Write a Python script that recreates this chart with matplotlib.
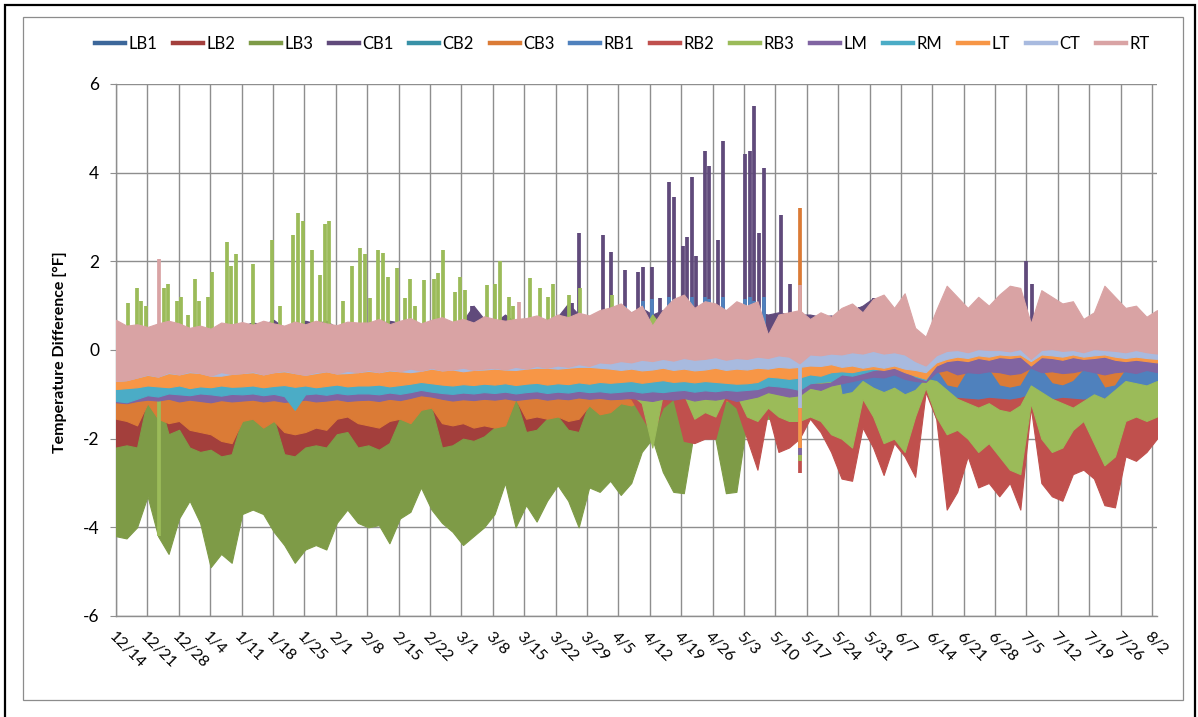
import numpy as np
import matplotlib
matplotlib.use("Agg")
import matplotlib.pyplot as plt
from matplotlib.patches import Rectangle
from matplotlib.lines import Line2D

# ---------------- data ----------------
# x axis: days since 12/14. Bands: 3 samples a week, each sample holds the daily
# low (lo) and daily high (hi) envelope of the series. Single-day spikes are kept
# separately as (day, value) pairs.
END_DAY = 232.1
week_labels = ["12/14", "12/21", "12/28", "1/4", "1/11", "1/18", "1/25", "2/1", "2/8",
               "2/15", "2/22", "3/1", "3/8", "3/15", "3/22", "3/29", "4/5", "4/12",
               "4/19", "4/26", "5/3", "5/10", "5/17", "5/24", "5/31", "6/7", "6/14",
               "6/21", "6/28", "7/5", "7/12", "7/19", "7/26", "8/2"]
y_ticks = [-6, -4, -2, 0, 2, 4, 6]
series_names = ["LB1", "LB2", "LB3", "CB1", "CB2", "CB3", "RB1", "RB2", "RB3",
                "LM", "RM", "LT", "CT", "RT"]

LB1_hi = [-1.15,-1.18,-1.12,-1.15,-1.20,-1.14,-1.17,-1.13,-1.16,-1.19,-1.14,-1.17,
          -1.15,-1.12,-1.16,-1.14,-1.18,-1.15,-1.13,-1.17,-1.14,-1.16,-1.12,-1.15,
          -1.14,-1.17,-1.13,-1.15,-1.12,-1.10,-1.12,-1.16,-1.14,-1.13,-1.15,-1.12,
          -1.14,-1.12,-1.10,-1.15,-1.13,-1.12,-1.14,-1.12,-1.15,-1.12,-1.10,-1.12,
          -1.12,-1.10,-1.13,-1.11,-1.12,-1.10,-1.13,-1.11,-1.12,-1.10,-1.12,-1.11,
          -1.10,-1.12,-1.08,-1.10,-1.12,-1.10,-1.05,-1.08,-1.06,-1.05,-1.08,-1.02,
          -1.05,-1.08,-1.04,-1.06,-1.00,-0.75,-1.05,-1.10,-1.12,-1.08,-1.10,-1.12,
          -1.10,-1.12,-1.15,-1.00,-1.10,-1.12,-1.10,-1.08,-1.05,-1.08,-1.10,-1.06,
          -1.02,-1.00,-1.04,-1.02]
LB1_lo = [-1.45,-1.48,-1.42,-1.40,-1.45,-1.44,-1.47,-1.43,-1.46,-1.49,-1.44,-1.47,
          -1.45,-1.42,-1.46,-1.44,-1.48,-1.45,-1.43,-1.47,-1.44,-1.42,-1.40,-1.45,
          -1.44,-1.47,-1.43,-1.45,-1.42,-1.30,-1.28,-1.46,-1.44,-1.43,-1.45,-1.42,
          -1.44,-1.42,-1.20,-1.45,-1.43,-1.42,-1.44,-1.42,-1.45,-1.20,-1.35,-1.32,
          -1.30,-1.28,-1.30,-1.32,-1.30,-1.28,-1.30,-1.32,-1.30,-1.28,-1.30,-1.32,
          -1.30,-1.32,-1.28,-1.30,-1.32,-1.30,-1.28,-1.30,-1.32,-1.30,-1.28,-1.10,
          -1.30,-1.32,-1.28,-1.30,-1.25,-0.85,-1.30,-1.35,-1.32,-1.30,-1.35,-1.32,
          -1.35,-1.32,-1.35,-1.20,-1.32,-1.35,-1.30,-1.28,-1.30,-1.32,-1.35,-1.30,
          -1.25,-1.22,-1.25,-1.20]

LB2_hi = [-1.20,-1.22,-1.18,-1.15,-1.20,-1.22,-1.18,-1.25,-1.22,-1.20,-1.25,-1.22,
          -1.20,-1.18,-1.22,-1.20,-1.25,-1.22,-1.20,-1.22,-1.18,-1.20,-1.22,-1.20,
          -1.22,-1.25,-1.20,-1.18,-1.20,-1.15,-1.12,-1.22,-1.20,-1.18,-1.20,-1.22,
          -1.20,-1.18,-1.05,-1.20,-1.18,-1.15,-1.18,-1.20,-1.18,-1.10,-1.15,-1.12,
          -1.12,-1.10,-1.12,-1.15,-1.12,-1.10,-1.12,-1.15,-1.12,-1.10,-1.12,-1.15,
          -1.12,-1.15,-1.10,-1.12,-1.15,-1.12,-1.10,-1.12,-1.15,-1.12,-1.10,-1.12,
          -1.15,-1.18,-1.15,-1.18,-1.10,-0.75,-1.15,-1.20,-1.22,-1.18,-1.20,-1.22,
          -1.20,-1.22,-1.25,-1.05,-1.20,-1.22,-1.20,-1.18,-1.15,-1.18,-1.20,-1.15,
          -1.12,-1.10,-1.12,-1.10]
LB2_lo = [-2.30,-2.35,-2.40,-1.80,-2.00,-2.20,-2.10,-2.40,-2.45,-2.40,-2.50,-2.95,
          -2.20,-2.10,-2.30,-2.20,-2.50,-2.90,-2.45,-2.40,-2.45,-2.20,-2.10,-2.40,
          -2.45,-2.50,-2.40,-2.00,-2.05,-1.80,-1.75,-2.40,-2.30,-2.25,-2.30,-2.20,
          -2.10,-2.00,-1.70,-2.10,-2.05,-1.90,-1.85,-2.10,-2.15,-1.70,-1.80,-1.75,
          -1.50,-1.45,-1.50,-1.48,-1.50,-1.45,-1.50,-1.48,-1.50,-1.45,-1.50,-1.48,
          -1.45,-1.48,-1.40,-1.45,-1.48,-1.45,-1.40,-1.42,-1.45,-1.40,-1.42,-1.35,
          -1.35,-1.40,-1.38,-1.40,-1.35,-0.85,-1.40,-1.42,-1.40,-1.38,-1.40,-1.42,
          -1.40,-1.42,-1.45,-1.20,-1.40,-1.42,-1.40,-1.38,-1.35,-1.38,-1.40,-1.35,
          -1.32,-1.30,-1.32,-1.30]

LB3_hi = [-2.20,-2.15,-2.20,-1.10,-1.05,-1.90,-1.80,-2.20,-2.30,-2.25,-2.40,-2.35,
          -1.55,-1.50,-1.70,-1.55,-2.35,-2.40,-2.20,-2.15,-2.20,-1.90,-1.85,-2.20,
          -2.15,-2.25,-2.10,-1.55,-1.60,-1.35,-1.30,-2.20,-2.15,-2.00,-2.05,-1.95,
          -1.75,-1.70,-1.10,-1.85,-1.80,-1.55,-1.50,-1.80,-1.85,-1.20,-1.40,-1.35,
          -1.10,-1.12,-1.10,-1.12,-1.10,-1.08,-1.10,-1.12,-1.10,-1.12,-1.08,-1.10,
          -1.20,-1.22,-1.18,-1.20,-1.22,-1.20,-1.18,-1.20,-1.22,-1.20,-1.18,-1.20,
          -1.15,-1.18,-1.15,-1.18,-1.10,-0.75,-1.15,-1.20,-1.22,-1.18,-1.20,-1.22,
          -1.20,-1.22,-1.25,-1.05,-1.20,-1.22,-1.20,-1.18,-1.15,-1.18,-1.20,-1.15,
          -1.12,-1.10,-1.12,-1.10]
LB3_lo = [-4.20,-4.25,-4.00,-3.30,-4.20,-4.60,-3.80,-3.40,-3.90,-4.90,-4.60,-4.80,
          -3.70,-3.60,-3.70,-4.10,-4.40,-4.80,-4.50,-4.40,-4.50,-3.90,-3.60,-3.90,
          -4.00,-3.95,-4.36,-3.80,-3.65,-3.10,-3.60,-3.90,-4.10,-4.40,-4.20,-4.00,
          -3.70,-3.00,-4.00,-3.50,-3.87,-3.40,-3.05,-3.40,-4.00,-3.10,-3.20,-2.95,
          -3.27,-3.00,-2.30,-2.00,-2.75,-3.20,-3.23,-1.80,-1.90,-2.00,-3.23,-3.20,
          -1.60,-1.62,-1.55,-1.60,-1.62,-1.60,-1.55,-1.58,-1.60,-1.55,-1.58,-1.50,
          -1.50,-1.55,-1.52,-1.55,-1.50,-0.85,-1.55,-1.60,-1.58,-1.55,-1.60,-1.62,
          -1.60,-1.62,-1.65,-1.20,-1.60,-1.62,-1.60,-1.55,-1.50,-1.55,-1.58,-1.50,
          -1.45,-1.42,-1.45,-1.40]

CB1_hi = [0.40, 0.40, 0.42, 0.38, 0.45, 0.40, 0.55, 0.45, 0.50, 0.40, 0.42, 0.48,
          0.55, 0.62, 0.58, 0.68, 0.50, 0.55, 0.66, 0.60, 0.66, 0.50, 0.58, 0.56,
          0.55, 0.60, 0.66, 0.62, 0.65, 0.55, 0.60, 0.65, 0.58, 0.66, 1.00, 0.70,
          0.62, 0.80, 0.62, 0.70, 0.72, 0.62, 0.75, 1.05, 0.80, 0.72, 0.85, 0.90,
          0.90, 0.85, 0.95, 0.80, 0.90, 0.85, 0.95, 0.90, 0.85, 0.80, 0.90, 0.85,
          0.90, 0.85, 0.80, 0.85, 0.80, 0.80, 0.80, 0.75, 0.78, 0.70, 0.90, 1.00,
          1.17, 0.70, 0.79, 0.65, 0.40, 0.25, 0.60, 0.70, 0.65, 0.60, 0.70, 0.65,
          0.70, 0.75, 0.70, 0.55, 0.70, 0.65, 0.70, 0.75, 0.50, 0.60, 0.70, 0.65,
          0.60, 0.65, 0.55, 0.60]
CB1_lo = [-0.30,-0.32,-0.28,-0.30,-0.31,-0.29,-0.30,-0.32,-0.28,-0.30,-0.31,-0.29,
          -0.30,-0.32,-0.28,-0.30,-0.31,-0.29,-0.30,-0.32,-0.28,-0.30,-0.31,-0.29,
          -0.30,-0.32,-0.28,-0.30,-0.31,-0.29,-0.30,-0.32,-0.28,-0.30,-0.31,-0.29,
          -0.30,-0.32,-0.28,-0.30,-0.31,-0.29,-0.30,-0.32,-0.28,-0.30,-0.31,-0.29,
          -0.10,-0.12,-0.08,-0.10,-0.11,-0.09,-0.10,-0.12,-0.08,-0.10,-0.11,-0.09,
          -0.10,-0.12,-0.08,-0.10,-0.11,-0.09,-0.10,-0.12,-0.08,-0.05,-0.06,-0.04,
          -0.05,-0.06,-0.04,-0.05,-0.06,-0.04,-0.05,-0.06,-0.04,-0.05,-0.06,-0.04,
          -0.05,-0.06,-0.04,-0.05,-0.06,-0.04,-0.05,-0.06,-0.04,-0.05,-0.06,-0.04,
          -0.05,-0.06,-0.04,-0.05]

CB2_hi = [-0.80,-0.82,-0.78,-0.80,-0.81,-0.79,-0.80,-0.82,-0.78,-0.80,-0.81,-0.79,
          -0.80,-0.82,-0.78,-0.80,-0.81,-0.79,-0.80,-0.82,-0.78,-0.80,-0.81,-0.79,
          -0.80,-0.82,-0.78,-0.80,-0.81,-0.79,-0.80,-0.82,-0.78,-0.80,-0.81,-0.79,
          -0.80,-0.82,-0.78,-0.80,-0.81,-0.79,-0.80,-0.82,-0.78,-0.80,-0.81,-0.79,
          -0.75,-0.76,-0.74,-0.75,-0.76,-0.74,-0.75,-0.76,-0.74,-0.75,-0.76,-0.74,
          -0.75,-0.76,-0.74,-0.75,-0.76,-0.74,-0.75,-0.76,-0.74,-0.15,-0.16,-0.14,
          -0.15,-0.16,-0.14,-0.15,-0.16,-0.14,-0.15,-0.16,-0.14,-0.15,-0.16,-0.14,
          -0.15,-0.16,-0.14,-0.15,-0.16,-0.14,-0.15,-0.16,-0.14,-0.15,-0.16,-0.14,
          -0.15,-0.16,-0.14,-0.15]
CB2_lo = [-1.00,-1.02,-0.98,-1.00,-1.01,-0.99,-1.00,-1.02,-0.98,-1.00,-1.01,-0.99,
          -1.00,-1.02,-0.98,-1.00,-1.01,-0.99,-1.00,-1.02,-0.98,-1.00,-1.01,-0.99,
          -1.00,-1.02,-0.98,-1.00,-1.01,-0.99,-1.00,-1.02,-0.98,-1.00,-1.01,-0.99,
          -1.00,-1.02,-0.98,-1.00,-1.01,-0.99,-1.00,-1.02,-0.98,-1.00,-1.01,-0.99,
          -0.95,-0.96,-0.94,-0.95,-0.96,-0.94,-0.95,-0.96,-0.94,-0.95,-0.96,-0.94,
          -0.95,-0.96,-0.94,-0.95,-0.96,-0.94,-0.95,-0.96,-0.94,-0.40,-0.41,-0.39,
          -0.40,-0.41,-0.39,-0.40,-0.41,-0.39,-0.40,-0.41,-0.39,-0.40,-0.41,-0.39,
          -0.40,-0.41,-0.39,-0.40,-0.41,-0.39,-0.40,-0.41,-0.39,-0.40,-0.41,-0.39,
          -0.40,-0.41,-0.39,-0.40]

CB3_hi = [-0.95,-0.96,-0.94,-0.95,-0.96,-0.94,-0.95,-0.96,-0.94,-0.95,-0.96,-0.94,
          -0.95,-0.96,-0.94,-0.95,-0.96,-0.94,-0.95,-0.96,-0.94,-0.95,-0.96,-0.94,
          -0.95,-0.96,-0.94,-0.95,-0.96,-0.94,-0.95,-0.96,-0.94,-0.95,-0.96,-0.94,
          -0.95,-0.96,-0.94,-0.95,-0.96,-0.94,-0.95,-0.96,-0.94,-0.95,-0.96,-0.94,
          -0.90,-0.91,-0.89,-0.90,-0.91,-0.89,-0.90,-0.91,-0.89,-0.90,-0.91,-0.89,
          -0.90,-0.91,-0.85,-0.90,-0.91,-0.90,-0.85,-0.86,-0.84,-0.30,-0.32,-0.28,
          -0.30,-0.32,-0.28,-0.30,-0.32,-0.28,-0.30,-0.32,-0.28,-0.30,-0.32,-0.28,
          -0.30,-0.32,-0.28,-0.30,-0.32,-0.28,-0.30,-0.32,-0.28,-0.30,-0.32,-0.28,
          -0.30,-0.32,-0.28,-0.30]
CB3_lo = [-1.55,-1.60,-1.70,-1.20,-1.55,-1.65,-1.60,-1.80,-1.85,-1.90,-2.05,-2.10,
          -1.60,-1.55,-1.75,-1.60,-1.85,-1.90,-1.85,-1.75,-1.80,-1.55,-1.50,-1.65,
          -1.70,-1.75,-1.60,-1.55,-1.65,-1.35,-1.30,-1.65,-1.70,-1.65,-1.75,-1.70,
          -1.75,-1.70,-1.10,-1.55,-1.50,-1.55,-1.50,-1.60,-1.55,-1.25,-1.45,-1.40,
          -1.20,-1.25,-1.15,-1.10,-1.15,-1.10,-1.15,-1.10,-1.12,-1.10,-1.15,-1.10,
          -1.10,-1.05,-0.90,-1.00,-1.05,-1.00,-0.95,-0.95,-0.90,-0.95,-0.95,-0.95,
          -0.95,-0.95,-0.95,-0.95,-0.90,-0.85,-0.95,-0.95,-0.95,-0.95,-0.95,-0.95,
          -0.95,-0.95,-0.95,-0.90,-0.95,-0.95,-0.95,-0.95,-0.95,-0.95,-0.95,-0.95,
          -0.95,-0.95,-0.95,-0.95]

RB1_hi = [0.20, 0.22, 0.18, 0.20, 0.21, 0.19, 0.20, 0.22, 0.18, 0.20, 0.21, 0.19,
          0.20, 0.22, 0.18, 0.20, 0.21, 0.19, 0.20, 0.22, 0.18, 0.20, 0.21, 0.19,
          0.20, 0.22, 0.18, 0.20, 0.21, 0.19, 0.20, 0.22, 0.18, 0.20, 0.21, 0.19,
          0.20, 0.22, 0.18, 0.20, 0.21, 0.19, 0.20, 0.22, 0.18, 0.20, 0.50, 0.50,
          0.50, 0.50, 0.50, 0.45, 0.50, 0.50, 0.45, 0.50, 0.50, 0.45, 0.50, 0.50,
          0.45, 0.50, 0.35, 0.45, 0.50, 0.45, 0.40, 0.40, 0.30,-0.70,-0.65,-0.60,
          -0.55,-0.58,-0.50,-0.60,-0.65,-0.70,-0.45,-0.80,-0.85,-0.45,-0.50,-0.45,
          -0.80,-0.85,-0.80,-0.40,-0.45,-0.75,-0.80,-0.70,-0.45,-0.45,-0.85,-0.80,
          -0.45,-0.50,-0.45,-0.48]
RB1_lo = [-0.80,-0.82,-0.78,-0.80,-0.81,-0.79,-0.80,-0.82,-0.78,-0.80,-0.81,-0.79,
          -0.80,-0.82,-0.78,-0.80,-0.81,-0.79,-0.80,-0.82,-0.78,-0.80,-0.81,-0.79,
          -0.80,-0.82,-0.78,-0.80,-0.81,-0.79,-0.80,-0.82,-0.78,-0.80,-0.81,-0.79,
          -0.80,-0.82,-0.78,-0.80,-0.81,-0.79,-0.80,-0.82,-0.78,-0.80,-0.81,-0.79,
          -0.90,-0.91,-0.89,-0.90,-0.91,-0.89,-0.90,-0.91,-0.89,-0.90,-0.91,-0.89,
          -0.90,-0.91,-0.89,-0.90,-0.91,-0.89,-0.90,-0.91,-0.89,-1.20,-1.10,-1.30,
          -1.40,-1.40,-1.30,-1.40,-1.10,-0.80,-1.00,-1.30,-1.40,-1.50,-1.55,-1.60,
          -1.55,-1.60,-1.50,-1.00,-1.30,-1.50,-1.55,-1.50,-1.45,-1.40,-1.50,-1.50,
          -1.30,-1.30,-1.25,-1.30]

RB2_hi = [-0.85,-0.86,-0.84,-0.85,-0.86,-0.84,-0.85,-0.86,-0.84,-0.85,-0.86,-0.84,
          -0.85,-0.86,-0.84,-0.85,-0.86,-0.84,-0.85,-0.86,-0.84,-0.85,-0.86,-0.84,
          -0.85,-0.86,-0.84,-0.85,-0.86,-0.84,-0.85,-0.86,-0.84,-0.85,-0.86,-0.84,
          -0.85,-0.86,-0.84,-0.85,-0.86,-0.84,-0.85,-0.86,-0.84,-0.85,-0.95,-0.96,
          -0.95,-0.96,-0.94,-0.95,-0.96,-0.94,-0.95,-0.96,-0.94,-0.95,-0.96,-0.94,
          -0.95,-0.96,-0.94,-0.95,-0.96,-0.94,-0.95,-0.96,-0.94,-1.10,-1.12,-1.08,
          -1.10,-1.12,-1.08,-1.10,-1.12,-0.70,-1.10,-1.12,-1.08,-1.10,-1.12,-1.08,
          -1.10,-1.12,-1.08,-1.00,-1.10,-1.12,-1.08,-1.10,-1.12,-1.08,-1.10,-1.12,
          -1.08,-1.10,-1.12,-1.08]
RB2_lo = [-1.00,-1.02,-0.98,-1.00,-1.01,-0.99,-1.00,-1.02,-0.98,-1.00,-1.01,-0.99,
          -1.00,-1.02,-0.98,-1.00,-1.01,-0.99,-1.00,-1.02,-0.98,-1.00,-1.01,-0.99,
          -1.00,-1.02,-0.98,-1.00,-1.01,-0.99,-1.00,-1.02,-0.98,-1.00,-1.01,-0.99,
          -1.00,-1.02,-0.98,-1.00,-1.01,-0.99,-1.00,-1.02,-0.98,-1.00,-1.00,-1.02,
          -1.05,-1.10,-1.50,-1.90,-1.30,-1.10,-2.05,-2.10,-2.00,-2.00,-1.10,-1.30,
          -2.00,-2.70,-1.40,-2.30,-2.20,-2.00,-1.55,-1.85,-2.30,-2.90,-2.95,-1.75,
          -2.20,-2.82,-2.10,-2.40,-2.86,-0.95,-1.55,-3.60,-3.20,-2.40,-3.10,-3.00,
          -3.30,-3.00,-3.60,-1.30,-3.00,-3.30,-3.40,-2.80,-2.70,-2.90,-3.50,-3.55,
          -2.40,-2.50,-2.30,-2.00]

RB3_hi = [0.40, 0.42, 0.38, 0.40, 0.41, 0.39, 0.40, 0.42, 0.38, 0.40, 0.41, 0.39,
          0.40, 0.42, 0.38, 0.40, 0.41, 0.39, 0.40, 0.42, 0.38, 0.40, 0.41, 0.39,
          0.40, 0.42, 0.38, 0.40, 0.41, 0.39, 0.40, 0.42, 0.38, 0.40, 0.41, 0.39,
          0.40, 0.42, 0.38, 0.40, 0.41, 0.39, 0.40, 0.42, 0.38, 0.40, 0.41, 0.39,
          0.45, 0.50, 0.40, 0.80, 0.50, 0.45, 0.50, 0.40, 0.50, 0.45, 0.50, 0.40,
          0.50, 0.45, 0.20, 0.45, 0.50, 0.50, 0.40, 0.45, 0.40, -1.00,-0.95,-0.70,
          -0.85,-0.95,-0.85,-1.00,-0.90,-0.65,-0.70,-0.90,-1.10,-1.20,-1.30,-1.20,
          -1.35,-1.40,-1.25,-0.80,-0.95,-1.10,-1.20,-1.30,-1.15,-1.00,-1.10,-0.90,
          -0.70,-0.75,-0.80,-0.70]
RB3_lo = [-0.90,-0.92,-0.88,-0.90,-0.91,-0.90,-0.92,-0.88,-0.90,-0.92,-0.88,-0.90,
          -0.90,-0.92,-0.88,-0.90,-0.91,-0.89,-0.90,-0.92,-0.88,-0.90,-0.91,-0.89,
          -0.90,-0.92,-0.88,-0.90,-0.91,-0.89,-0.90,-0.92,-0.88,-0.90,-0.91,-0.89,
          -0.90,-0.92,-0.88,-0.90,-0.91,-0.89,-0.90,-0.92,-0.88,-0.90,-0.95,-1.00,
          -1.00,-1.00,-1.20,-2.20,-1.00,-1.00,-1.00,-1.55,-1.40,-1.50,-1.00,-1.00,
          -1.50,-1.60,-1.30,-1.50,-1.60,-1.60,-1.50,-1.60,-1.90,-2.00,-2.20,-1.10,
          -1.50,-2.10,-2.00,-2.30,-1.50,-0.85,-1.50,-1.90,-1.80,-2.00,-2.30,-2.10,
          -2.40,-2.70,-2.80,-1.20,-2.00,-2.30,-2.20,-1.80,-1.60,-2.10,-2.60,-2.40,
          -1.60,-1.50,-1.60,-1.50]

LM_hi = [-0.85,-0.86,-0.84,-0.85,-0.86,-0.84,-0.85,-0.86,-0.84,-0.85,-0.86,-0.84,
         -0.85,-0.86,-0.84,-0.85,-0.86,-0.84,-0.85,-0.86,-0.84,-0.85,-0.86,-0.84,
         -0.85,-0.86,-0.84,-0.85,-0.86,-0.84,-0.85,-0.86,-0.84,-0.85,-0.86,-0.84,
         -0.85,-0.86,-0.84,-0.85,-0.86,-0.84,-0.85,-0.86,-0.84,-0.85,-0.86,-0.84,
         -0.75,-0.76,-0.74,-0.75,-0.76,-0.74,-0.75,-0.76,-0.74,-0.75,-0.76,-0.74,
         -0.75,-0.76,-0.74,-0.75,-0.76,-0.74,-0.75,-0.76,-0.74, 0.00,-0.10, 0.05,
          0.10, 0.05, 0.00, 0.15,-0.10,-0.30, 0.00, 0.10, 0.05, 0.10, 0.15, 0.10,
          0.15, 0.20, 0.34, 0.05, 0.10, 0.15, 0.10, 0.05, 0.10, 0.15, 0.30, 0.10,
          0.05, 0.00, 0.05, 0.00]
LM_lo = [-1.18,-1.20,-1.15,-1.12,-1.14,-1.10,-1.16,-1.12,-1.15,-1.18,-1.13,-1.16,
         -1.14,-1.12,-1.16,-1.13,-1.17,-1.15,-1.12,-1.16,-1.14,-1.11,-1.15,-1.13,
         -1.12,-1.15,-1.10,-1.13,-1.08,-1.02,-1.05,-1.10,-1.14,-1.11,-1.13,-1.10,
         -1.12,-1.09,-1.13,-1.10,-1.08,-1.12,-1.09,-1.11,-1.07,-1.10,-1.08,-1.11,
         -1.10,-1.08,-1.12,-1.15,-1.10,-1.12,-1.08,-1.14,-1.10,-1.12,-1.08,-1.15,
         -1.10,-1.05,-0.95,-1.00,-1.05,-1.02,-0.85,-0.90,-0.80,-0.75,-0.70,-0.65,
         -0.60,-0.62,-0.55,-0.65,-0.70,-0.72,-0.50,-0.45,-0.55,-0.50,-0.52,-0.48,
         -0.50,-0.55,-0.52,-0.40,-0.50,-0.48,-0.52,-0.50,-0.45,-0.50,-0.55,-0.50,
         -0.48,-0.52,-0.45,-0.50]

RM_hi = [-0.60,-0.61,-0.59,-0.60,-0.61,-0.59,-0.60,-0.61,-0.59,-0.60,-0.61,-0.59,
         -0.60,-0.61,-0.59,-0.60,-0.61,-0.59,-0.60,-0.61,-0.59,-0.60,-0.61,-0.59,
         -0.60,-0.61,-0.59,-0.60,-0.61,-0.59,-0.60,-0.61,-0.59,-0.60,-0.61,-0.59,
         -0.60,-0.61,-0.59,-0.60,-0.61,-0.59,-0.60,-0.61,-0.59,-0.60,-0.61,-0.59,
         -0.50,-0.51,-0.49,-0.50,-0.51,-0.49,-0.50,-0.51,-0.49,-0.50,-0.51,-0.49,
         -0.50,-0.51,-0.49,-0.50,-0.51,-0.49,-0.50,-0.51,-0.49, 0.00,-0.01, 0.01,
          0.00,-0.01, 0.01, 0.00,-0.01, 0.01, 0.00,-0.01, 0.01, 0.00,-0.01, 0.01,
          0.00,-0.01, 0.01, 0.00,-0.01, 0.01, 0.00,-0.01, 0.01, 0.00,-0.01, 0.01,
          0.00,-0.01, 0.01, 0.00]
RM_lo = [-1.15,-1.18,-1.10,-1.02,-1.05,-0.98,-1.00,-1.02,-0.98,-1.00,-1.03,-0.99,
         -1.00,-0.98,-1.02,-0.99,-1.04,-1.35,-1.00,-0.98,-1.01,-0.97,-1.00,-0.98,
         -0.98,-1.00,-0.96,-0.99,-0.95,-0.90,-0.94,-0.97,-0.99,-0.96,-0.98,-0.95,
         -0.97,-0.94,-0.98,-0.95,-0.93,-0.97,-0.94,-0.96,-0.92,-0.95,-0.93,-0.96,
         -0.94,-0.92,-0.96,-0.93,-0.95,-0.92,-0.90,-0.94,-0.91,-0.93,-0.90,-0.92,
         -0.90,-0.88,-0.80,-0.82,-0.85,-0.90,-0.75,-0.72,-0.70,-0.55,-0.58,-0.52,
         -0.45,-0.42,-0.40,-0.45,-0.60,-0.68,-0.30,-0.20,-0.18,-0.20,-0.15,-0.18,
         -0.12,-0.15,-0.12,-0.30,-0.12,-0.15,-0.18,-0.12,-0.15,-0.15,-0.12,-0.18,
         -0.20,-0.18,-0.20,-0.22]

LT_hi = [-0.35,-0.36,-0.34,-0.35,-0.36,-0.34,-0.35,-0.36,-0.34,-0.35,-0.36,-0.34,
         -0.35,-0.36,-0.34,-0.35,-0.36,-0.34,-0.35,-0.36,-0.34,-0.35,-0.36,-0.34,
         -0.35,-0.36,-0.34,-0.35,-0.36,-0.34,-0.35,-0.36,-0.34,-0.35,-0.36,-0.34,
         -0.35,-0.36,-0.34,-0.35,-0.36,-0.34,-0.35,-0.36,-0.34,-0.35,-0.36,-0.34,
         -0.25,-0.26,-0.24,-0.25,-0.26,-0.24,-0.25,-0.26,-0.24,-0.25,-0.26,-0.24,
         -0.25,-0.26,-0.24,-0.25,-0.26,-0.24,-0.25,-0.26,-0.24, 0.05, 0.04, 0.06,
          0.05, 0.04, 0.06, 0.05, 0.04, 0.06, 0.05, 0.04, 0.06, 0.05, 0.04, 0.06,
          0.05, 0.04, 0.06, 0.05, 0.04, 0.06, 0.05, 0.04, 0.06, 0.05, 0.04, 0.06,
          0.05, 0.04, 0.06, 0.05]
LT_lo = [-0.88,-0.86,-0.84,-0.80,-0.82,-0.84,-0.80,-0.86,-0.82,-0.84,-0.80,-0.83,
         -0.82,-0.80,-0.84,-0.81,-0.79,-0.83,-0.80,-0.84,-0.81,-0.78,-0.82,-0.80,
         -0.80,-0.78,-0.82,-0.79,-0.76,-0.72,-0.75,-0.78,-0.80,-0.77,-0.79,-0.76,
         -0.78,-0.75,-0.79,-0.76,-0.74,-0.78,-0.75,-0.77,-0.73,-0.76,-0.72,-0.74,
         -0.72,-0.70,-0.74,-0.71,-0.68,-0.72,-0.70,-0.73,-0.70,-0.72,-0.74,-0.76,
         -0.75,-0.72,-0.60,-0.62,-0.65,-0.62,-0.55,-0.58,-0.50,-0.48,-0.50,-0.45,
         -0.42,-0.45,-0.40,-0.50,-0.58,-0.65,-0.35,-0.25,-0.22,-0.25,-0.18,-0.22,
         -0.16,-0.18,-0.15,-0.35,-0.16,-0.18,-0.22,-0.16,-0.20,-0.18,-0.15,-0.22,
         -0.25,-0.22,-0.25,-0.28]

CT_hi = [0.20, 0.21, 0.19, 0.20, 0.21, 0.19, 0.20, 0.21, 0.19, 0.20, 0.21, 0.19,
         0.20, 0.21, 0.19, 0.20, 0.21, 0.19, 0.20, 0.21, 0.19, 0.20, 0.21, 0.19,
         0.20, 0.21, 0.19, 0.20, 0.21, 0.19, 0.20, 0.21, 0.19, 0.20, 0.21, 0.19,
         0.20, 0.21, 0.19, 0.20, 0.21, 0.19, 0.20, 0.21, 0.19, 0.20, 0.21, 0.19,
         0.30, 0.31, 0.29, 0.30, 0.31, 0.29, 0.30, 0.31, 0.29, 0.30, 0.31, 0.29,
         0.30, 0.31, 0.20, 0.30, 0.31, 0.29, 0.30, 0.31, 0.29, 0.20, 0.21, 0.19,
         0.20, 0.21, 0.19, 0.20, 0.21, 0.10, 0.20, 0.21, 0.19, 0.20, 0.21, 0.19,
         0.20, 0.21, 0.19, 0.20, 0.21, 0.19, 0.20, 0.21, 0.19, 0.20, 0.21, 0.19,
         0.20, 0.21, 0.19, 0.20]
CT_lo = [-0.70,-0.68,-0.62,-0.56,-0.60,-0.52,-0.55,-0.50,-0.52,-0.58,-0.58,-0.54,
         -0.52,-0.50,-0.55,-0.50,-0.48,-0.52,-0.56,-0.52,-0.48,-0.53,-0.52,-0.50,
         -0.47,-0.50,-0.46,-0.48,-0.50,-0.47,-0.42,-0.46,-0.44,-0.48,-0.45,-0.44,
         -0.42,-0.44,-0.45,-0.42,-0.40,-0.40,-0.42,-0.40,-0.38,-0.38,-0.40,-0.42,
         -0.45,-0.42,-0.46,-0.44,-0.40,-0.45,-0.42,-0.46,-0.44,-0.40,-0.45,-0.42,
         -0.44,-0.40,-0.42,-0.38,-0.40,-0.38,-0.35,-0.36,-0.32,-0.38,-0.35,-0.40,
         -0.36,-0.40,-0.35,-0.42,-0.45,-0.50,-0.28,-0.20,-0.15,-0.18,-0.12,-0.15,
         -0.10,-0.12,-0.10,-0.25,-0.10,-0.12,-0.15,-0.10,-0.15,-0.12,-0.10,-0.15,
         -0.18,-0.15,-0.18,-0.20]

RT_hi = [0.68, 0.55, 0.58, 0.52, 0.60, 0.66, 0.60, 0.50, 0.55, 0.48, 0.62, 0.58,
         0.63, 0.57, 0.66, 0.60, 0.55, 0.64, 0.58, 0.66, 0.60, 0.56, 0.64, 0.62,
         0.62, 0.70, 0.58, 0.66, 0.72, 0.60, 0.68, 0.74, 0.64, 0.70, 0.62, 0.76,
         0.70, 0.66, 0.70, 0.72, 0.78, 0.68, 0.80, 0.74, 0.84, 0.78, 0.90, 0.96,
         1.05, 0.85, 1.00, 0.55, 0.90, 1.15, 1.25, 0.95, 1.10, 1.05, 0.90, 1.10,
         1.00, 1.10, 0.35, 0.80, 0.85, 0.90, 0.70, 0.85, 0.75, 0.95, 1.05, 0.85,
         1.15, 1.25, 0.95, 1.28, 0.50, 0.30, 0.90, 1.45, 1.20, 0.95, 1.20, 1.00,
         1.25, 1.45, 1.40, 0.60, 1.35, 1.20, 1.05, 1.10, 0.70, 0.85, 1.45, 1.20,
         0.95, 1.00, 0.75, 0.90]
RT_lo = [-0.70,-0.68,-0.62,-0.55,-0.60,-0.50,-0.55,-0.48,-0.52,-0.58,-0.50,-0.54,
         -0.52,-0.48,-0.55,-0.50,-0.46,-0.52,-0.56,-0.50,-0.48,-0.53,-0.47,-0.50,
         -0.45,-0.50,-0.44,-0.48,-0.42,-0.47,-0.40,-0.46,-0.44,-0.40,-0.45,-0.42,
         -0.40,-0.44,-0.38,-0.42,-0.36,-0.40,-0.35,-0.38,-0.32,-0.36,-0.28,-0.30,
         -0.25,-0.28,-0.22,-0.25,-0.20,-0.24,-0.18,-0.22,-0.20,-0.16,-0.22,-0.18,
         -0.20,-0.15,-0.18,-0.12,-0.15,-0.30,-0.10,-0.12,-0.08,-0.10,-0.05,-0.08,
         -0.02,-0.08,-0.05,-0.10,-0.25,-0.35,-0.12,-0.02, 0.00,-0.05, 0.02, 0.00,
          0.00,-0.03, 0.02,-0.20, 0.00, 0.02,-0.02, 0.00,-0.05, 0.02, 0.00,-0.02,
         -0.05, 0.00,-0.05,-0.08]

# single-day spikes (day since 12/14, value)
RB3_spike_day = [2.75, 4.6, 5.5, 6.7, 9.66, 10.6, 11.7, 13.5, 14.6, 16.0, 17.6, 18.6,
                 20.6, 21.5, 24.7, 25.6, 26.8, 30.6, 34.7, 36.6, 39.5, 40.5, 41.6,
                 43.6, 45.5, 46.6, 47.6, 50.6, 52.6, 54.3, 55.5, 56.6, 58.5, 59.6,
                 60.7, 62.6, 64.5, 65.6, 66.7, 68.7, 70.8, 71.7, 72.8, 75.6, 76.7,
                 77.8, 82.7, 84.5, 85.6, 87.6, 88.6, 92.3, 94.6, 96.4, 97.5, 100.9,
                 103.5, 110.5, 152.4]
RB3_spike_val = [1.05, 1.40, 1.10, 1.00, -4.20, 1.40, 1.50, 1.10, 1.20, 0.80, 1.60, 1.10,
                 1.20, 1.77, 2.44, 1.90, 2.16, 1.94, 2.47, 1.00, 2.60, 3.10, 2.90,
                 2.25, 1.70, 2.85, 2.90, 1.10, 1.90, 2.30, 2.16, 1.17, 2.26, 2.18,
                 1.65, 1.86, 1.17, 1.60, 1.00, 1.58, 1.60, 1.73, 2.26, 1.30, 1.65,
                 1.35, 1.47, 1.50, 2.00, 1.20, 1.00, 1.63, 1.40, 1.20, 1.48, 1.25,
                 1.40, 1.24, -2.50]
CB1_spike_day = [79.3, 101.6, 103.3, 108.5, 110.4, 113.4, 116.3, 117.4, 119.5, 121.3,
                 123.3, 124.4, 126.4, 127.4, 128.4, 129.3, 131.4, 132.3, 134.3, 135.3,
                 140.3, 141.4, 142.3, 143.3, 144.4, 148.3, 150.3, 165.9, 168.9, 174.5,
                 202.9, 204.2]
CB1_spike_val = [1.00, 1.05, 2.65, 2.60, 2.20, 1.80, 1.75, 1.88, 1.88, 1.17,
                 3.80, 3.46, 2.35, 2.56, 3.91, 2.12, 4.50, 4.15, 2.48, 4.71,
                 4.42, 4.50, 5.50, 2.65, 4.10, 3.05, 1.50, 0.90, 1.17, 0.79,
                 2.00, 1.50]
RB1_spike_day = [113.4, 117.4, 119.5, 123.3, 124.4, 127.4, 128.4, 131.4, 132.3, 135.3,
                 140.3, 141.4, 142.3, 144.4, 146.5]
RB1_spike_val = [1.00, 1.10, 1.15, 1.20, 1.15, 1.10, 1.20, 1.20, 1.15, 1.20,
                 1.15, 1.20, 1.10, 1.20, 0.35]
RT_spike_day = [9.66, 89.9, 152.4]
RT_spike_val = [2.05, 1.09, 1.47]
CB3_spike_day = [152.4]
CB3_spike_val = [3.21]
CT_spike_day = [152.4]
CT_spike_val = [-1.30]
LT_spike_day = [152.4]
LT_spike_val = [-2.20]
LM_spike_day = [152.4]
LM_spike_val = [-2.37]
RB2_spike_day = [152.4]
RB2_spike_val = [-2.78]

series_hi = [LB1_hi, LB2_hi, LB3_hi, CB1_hi, CB2_hi, CB3_hi, RB1_hi, RB2_hi, RB3_hi,
             LM_hi, RM_hi, LT_hi, CT_hi, RT_hi]
series_lo = [LB1_lo, LB2_lo, LB3_lo, CB1_lo, CB2_lo, CB3_lo, RB1_lo, RB2_lo, RB3_lo,
             LM_lo, RM_lo, LT_lo, CT_lo, RT_lo]
spikes = {"CB1": (CB1_spike_day, CB1_spike_val), "CB3": (CB3_spike_day, CB3_spike_val),
          "RB1": (RB1_spike_day, RB1_spike_val), "RB2": (RB2_spike_day, RB2_spike_val),
          "RB3": (RB3_spike_day, RB3_spike_val), "LM": (LM_spike_day, LM_spike_val),
          "LT": (LT_spike_day, LT_spike_val), "CT": (CT_spike_day, CT_spike_val),
          "RT": (RT_spike_day, RT_spike_val)}

# ---------------- style ----------------
colors = ["#3C679A", "#A33F3C", "#7E9B47", "#604A7B", "#3891A7", "#DB7B36",
          "#4F81BD", "#C0504D", "#9BBB59", "#8064A2", "#4BACC6", "#F79646",
          "#A8BADF", "#D9A3A4"]
GRID = "#8E8E8E"
plt.rcParams["font.family"] = ["Lato", "DejaVu Sans"]

W, H = 1198, 717
fig = plt.figure(figsize=(W / 100, H / 100), dpi=100)
fig.patch.set_facecolor("white")

fig.patches.append(Rectangle((5 / W, -0.02), (1195 - 5) / W, (H - 5) / H + 0.02,
                             transform=fig.transFigure, fill=False, ec="black", lw=1.6))
fig.patches.append(Rectangle((23 / W, (H - 700) / H), (1183 - 23) / W, (700 - 17) / H,
                             transform=fig.transFigure, fill=False, ec="#8C8C8C", lw=0.9))

L, R, T, B = 116, 1157, 84, 616
ax = fig.add_axes([L / W, (H - B) / H, (R - L) / W, (B - T) / H])

for i, (name, hi, lo) in enumerate(zip(series_names, series_hi, series_lo)):
    n = min(len(hi), len(lo))
    t = np.linspace(0, END_DAY, n)
    hi_a = np.asarray(hi[:n], float)
    lo_a = np.asarray(lo[:n], float)
    z = 3 + i
    ax.fill_between(t, lo_a, hi_a, color=colors[i], lw=0.8, ec=colors[i], zorder=z)
    if name in spikes:
        d, v = spikes[name]
        d = np.asarray(d, float)
        v = np.asarray(v, float)
        base_lo = np.interp(d, t, lo_a)
        base_hi = np.interp(d, t, hi_a)
        ymin = np.minimum(v, base_lo)
        ymax = np.maximum(v, base_hi)
        ax.vlines(d, ymin, ymax, colors=colors[i], lw=2.7, zorder=z)

ax.set_xlim(0, END_DAY)
ax.set_ylim(-6, 6)
week_pos = np.arange(len(week_labels)) * 7
ax.set_xticks(week_pos)
ax.set_xticklabels(week_labels)
ax.set_yticks(y_ticks)
ax.set_yticklabels([str(v) for v in y_ticks])
ax.set_axisbelow(True)
ax.grid(True, color=GRID, lw=1.0)
for s in ["top", "right"]:
    ax.spines[s].set_visible(False)
for s in ["left", "bottom"]:
    ax.spines[s].set_color(GRID)
    ax.spines[s].set_linewidth(1.0)
ax.tick_params(axis="y", length=4, color=GRID, labelsize=12.5, pad=8)
ax.tick_params(axis="x", length=0, labelsize=11.5, pad=10)
for lab in ax.get_xticklabels():
    lab.set_rotation(-45)
    lab.set_rotation_mode("anchor")
    lab.set_ha("left")
    lab.set_va("top")

fig.text(60 / W, 1 - 352 / H, "Temperature Difference [°F]", rotation=90,
         ha="center", va="center", fontsize=11.5, fontweight="bold")

handles = [Line2D([0], [0], color=c, lw=3.2) for c in colors]
fig.legend(handles, series_names, loc="center", bbox_to_anchor=(622 / W, 1 - 44 / H),
           ncol=14, frameon=False, fontsize=12, handlelength=1.8,
           handletextpad=0.2, columnspacing=0.95, borderaxespad=0)

fig.savefig("out.png", dpi=100, facecolor="white")
